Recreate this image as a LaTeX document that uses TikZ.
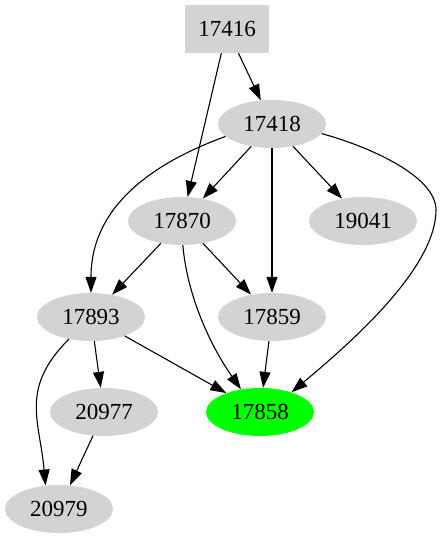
\documentclass[tikz,border=0pt]{standalone}
\usepackage{fontspec}
\setmainfont{Liberation Serif}
\usetikzlibrary{arrows.meta,shapes.geometric}
\definecolor{nodegray}{HTML}{D3D3D3}
\definecolor{nodegreen}{HTML}{00FF00}

\begin{document}
\begin{tikzpicture}[x=1pt, y=1pt,
        every node/.style={font=\fontsize{23}{28}\selectfont},
        oval/.style={ellipse, fill=nodegray, inner sep=0pt, minimum width=108pt, minimum height=48pt},
        boxnode/.style={rectangle, fill=nodegray, inner sep=0pt, minimum width=84pt, minimum height=48pt},
        edge/.style={line width=1.1pt, -{Triangle[length=16pt, width=11pt]}}]
        \useasboundingbox (0,0) rectangle (441,539);

        % nodes
        \node[boxnode] (n17416) at (227,510) {17416};
        \node[oval] (n17418) at (272,415) {17418};
        \node[oval] (n17870) at (182,318) {17870};
        \node[oval] (n19041) at (363,318) {19041};
        \node[oval] (n17893) at (91,222) {17893};
        \node[oval] (n17859) at (272,222) {17859};
        \node[oval] (n20977) at (104,127) {20977};
        \node[oval, fill=nodegreen] (n17858) at (260,127) {17858};
        \node[oval] (n20979) at (59,30) {20979};

        % edges
        \draw[edge] (n17416) -- (n17418);
        \draw[edge] (n17416) -- (n17870);
        \draw[edge] (n17418) -- (n17870);
        \draw[edge] (n17418) -- (n19041);
        \draw[edge] (n17418) -- (n17859);
        \draw[edge] (n17418.195) .. controls +(200:80) and +(90:85) .. (n17893.north);
        \draw[edge] (n17418.349) .. controls +(-15:45) and +(90:35) .. (436,329)
                    .. controls +(270:60) and +(40:70) .. (n17858.32);
        \draw[edge] (n17870) -- (n17893);
        \draw[edge] (n17870) -- (n17859);
        \draw[edge] (n17870.272) .. controls +(-85:50) and +(125:55) .. (n17858.130);
        \draw[edge] (n17893) -- (n17858);
        \draw[edge] (n17893) -- (n20977);
        \draw[edge] (n17893.225) .. controls +(225:70) and +(95:65) .. (n20979.120);
        \draw[edge] (n20977) -- (n20979);
        \draw[edge] (n17859) -- (n17858);
    \end{tikzpicture}
\end{document}
